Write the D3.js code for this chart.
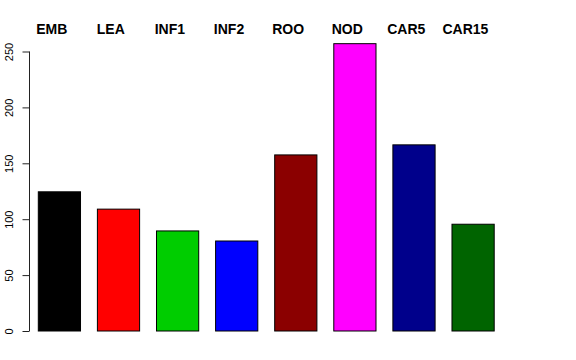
<!DOCTYPE html>
<html>
<head>
<meta charset="utf-8">
<script src="https://cdn.jsdelivr.net/npm/d3@7"></script>
<style>
  body { margin: 0; background: #fff; }
  text { font-family: "Liberation Sans", Arial, sans-serif; }
</style>
</head>
<body>
<svg width="576" height="360"></svg>
<script>
var categories = ['EMB', 'LEA', 'INF1', 'INF2', 'ROO', 'NOD', 'CAR5', 'CAR15'];
var values = [124.5, 109, 89.5, 80.5, 157.5, 257, 166.5, 95.5];
var colors = ['#000000', '#FF0000', '#00CD00', '#0000FF', '#8B0000', '#FF00FF', '#00008B', '#006400'];
var yTicks = [0, 50, 100, 150, 200, 250];

var svg = d3.select('svg');

var xScale = d3.scaleBand()
  .domain(categories)
  .range([38.3, 494.2])
  .paddingInner(0.4 / 1.4)
  .paddingOuter(0);

var yScale = d3.scaleLinear()
  .domain([0, 250])
  .range([331, 51.5]);

// bars
svg.append('g').selectAll('rect').data(values).enter()
  .append('rect')
  .attr('x', function(d, i) { return xScale(categories[i]); })
  .attr('y', function(d) { return yScale(d); })
  .attr('width', xScale.bandwidth())
  .attr('height', function(d) { return yScale(0) - yScale(d); })
  .attr('fill', function(d, i) { return colors[i]; })
  .attr('stroke', '#000')
  .attr('stroke-width', 1);

// labels across the top (centred a little left of each bar)
svg.append('g').selectAll('text').data(categories).enter()
  .append('text')
  .attr('x', function(d) { return xScale(d) + xScale.bandwidth() / 2 - 7.7; })
  .attr('y', 33.5)
  .attr('font-size', 14)
  .attr('font-weight', 'bold')
  .attr('text-anchor', 'middle')
  .text(function(d) { return d; });

// y axis, R style
var axisLeft = d3.axisLeft(yScale).tickValues(yTicks).tickSize(7);
var axisG = svg.append('g').attr('transform', 'translate(29.5,0)').call(axisLeft);
axisG.select('.domain').attr('d', 'M0,' + yScale(0) + 'V' + yScale(250)).attr('stroke', '#222');
axisG.selectAll('.tick line').attr('stroke', '#222');
axisG.selectAll('.tick text')
  .attr('font-size', 11)
  .attr('font-family', '"Liberation Sans", Arial, sans-serif')
  .attr('fill', '#000')
  .attr('text-anchor', 'middle')
  .attr('transform', 'rotate(-90)')
  .attr('x', 0)
  .attr('y', -16.5)
  .attr('dy', '0');
</script>
</body>
</html>
